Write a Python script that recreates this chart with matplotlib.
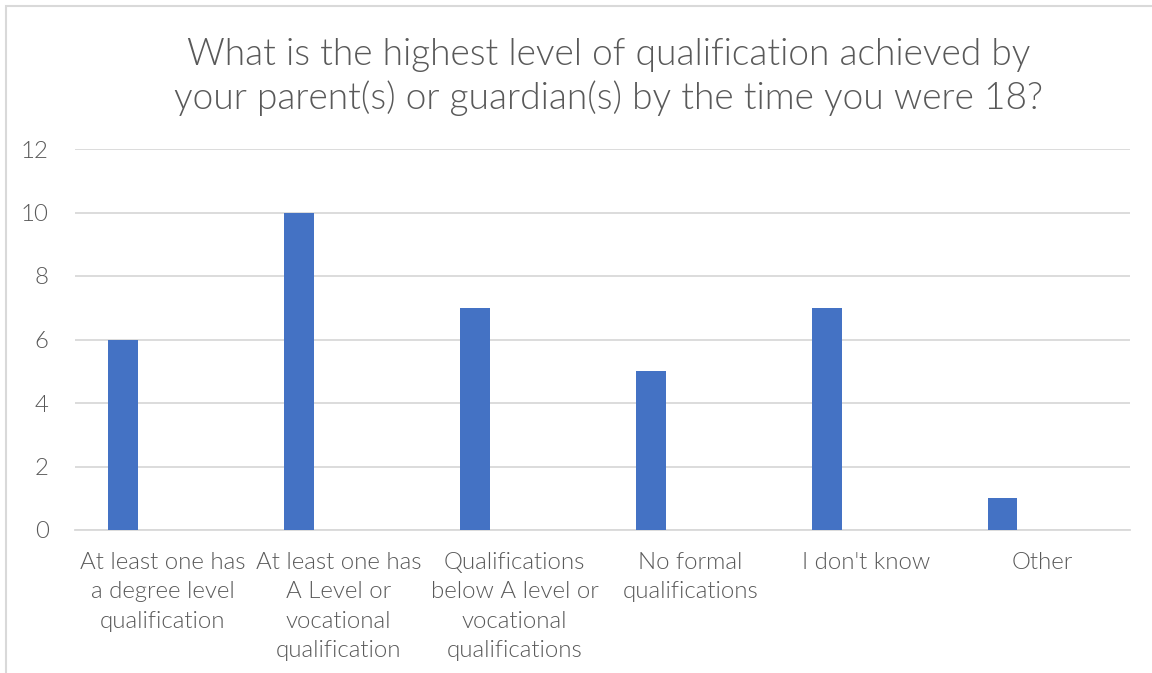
import matplotlib
matplotlib.use("Agg")
import matplotlib.pyplot as plt
from matplotlib.patches import Rectangle

categories = [
    "At least one has\na degree level\nqualification",
    "At least one has\nA Level or\nvocational\nqualification",
    "Qualifications\nbelow A level or\nvocational\nqualifications",
    "No formal\nqualifications",
    "I don't know",
    "Other",
]
values = [6, 10, 7, 5, 7, 1]
yticks = [0, 2, 4, 6, 8, 10, 12]
title = "What is the highest level of qualification achieved by\nyour parent(s) or guardian(s) by the time you were 18?"

plt.rcParams['font.family'] = ['Lato', 'DejaVu Sans']
plt.rcParams['font.weight'] = 300

fig = plt.figure(figsize=(11.52, 6.73), dpi=100)
ax = fig.add_axes([75/1152, 1-530/673, 1055/1152, 381/673])

x = list(range(len(categories)))
ax.bar([i - 0.225 for i in x], values, width=0.17, color="#4472C4", zorder=3)

ax.set_xlim(-0.5, len(categories) - 0.5)
ax.set_ylim(0, 12)
ax.set_yticks(yticks)
ax.set_yticklabels([str(t) for t in yticks])
ax.set_xticks(x)
ax.set_xticklabels(categories, linespacing=1.48)
ax.grid(axis='y', color="#d9d9d9", linewidth=1.3, zorder=0)
for s in ['top', 'right', 'left']:
    ax.spines[s].set_visible(False)
ax.spines['bottom'].set_color("#d9d9d9")
ax.spines['bottom'].set_linewidth(1.3)
ax.tick_params(axis='both', length=0, labelsize=17.3, labelcolor="#595959")
ax.tick_params(axis='y', pad=19)
ax.tick_params(axis='x', pad=16)
for lbl in ax.get_xticklabels() + ax.get_yticklabels():
    lbl.set_fontweight(300)

fig.text(609/1152, 1-77/673, title, ha='center', va='center', fontsize=26.7,
         color="#595959", fontweight=300, linespacing=1.26)

fig.patches.append(Rectangle((6/1152, -0.1), 1.2, 1 - 6/673 + 0.1, transform=fig.transFigure,
                             fill=False, edgecolor="#d9d9d9", linewidth=1.5))

fig.savefig("out.png", dpi=100)
